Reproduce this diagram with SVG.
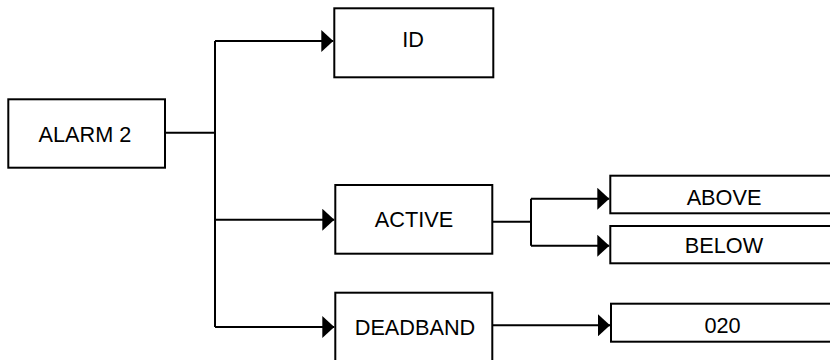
<svg xmlns="http://www.w3.org/2000/svg" width="830" height="360" viewBox="0 0 830 360">
<style>
.box{fill:#fff;stroke:#000;stroke-width:2}
.lbl{font-family:"Liberation Sans",Arial,sans-serif;font-size:21.7px;fill:#000;text-anchor:middle}
.wire{fill:none;stroke:#000;stroke-width:2}
</style>
<defs>
<marker id="arr" markerUnits="userSpaceOnUse" markerWidth="12" markerHeight="22" refX="12" refY="11" orient="auto">
<path d="M0,0 L12,11 L0,22 Z" fill="#000"/>
</marker>
</defs>
<rect width="830" height="360" fill="#fff"/>
<g id="connectors">
<path class="wire" d="M165,132.7 H215"/>
<path class="wire" d="M215,41 V327"/>
<path class="wire" d="M215,41 H333.3" marker-end="url(#arr)"/>
<path class="wire" d="M215,219.7 H334.3" marker-end="url(#arr)"/>
<path class="wire" d="M215,327 H334.3" marker-end="url(#arr)"/>
<path class="wire" d="M492.3,221.7 H531"/>
<path class="wire" d="M531,198.7 V245.7"/>
<path class="wire" d="M531,198.7 H609.3" marker-end="url(#arr)"/>
<path class="wire" d="M531,245.7 H609.3" marker-end="url(#arr)"/>
<path class="wire" d="M492.3,325.3 H610" marker-end="url(#arr)"/>
</g>
<g id="alarm2">
<rect class="box" x="8.3" y="99.3" width="156.7" height="68.4"/>
<text class="lbl" x="85" y="141.5">ALARM 2</text>
</g>
<g id="id">
<rect class="box" x="334.3" y="8.3" width="159" height="69"/>
<text class="lbl" x="413" y="46.7">ID</text>
</g>
<g id="active">
<rect class="box" x="335.3" y="185" width="157" height="68.7"/>
<text class="lbl" x="414" y="226.6">ACTIVE</text>
</g>
<g id="deadband">
<rect class="box" x="335.3" y="292.7" width="157" height="69"/>
<text class="lbl" x="415" y="335">DEADBAND</text>
</g>
<g id="above">
<rect class="box" x="610.3" y="175.7" width="228" height="37.6"/>
<text class="lbl" x="724" y="205">ABOVE</text>
</g>
<g id="below">
<rect class="box" x="610.3" y="226" width="228" height="37.3"/>
<text class="lbl" x="724" y="253.3">BELOW</text>
</g>
<g id="v020">
<rect class="box" x="611" y="303.7" width="228" height="38"/>
<text class="lbl" x="722.5" y="333.3">020</text>
</g>
</svg>
